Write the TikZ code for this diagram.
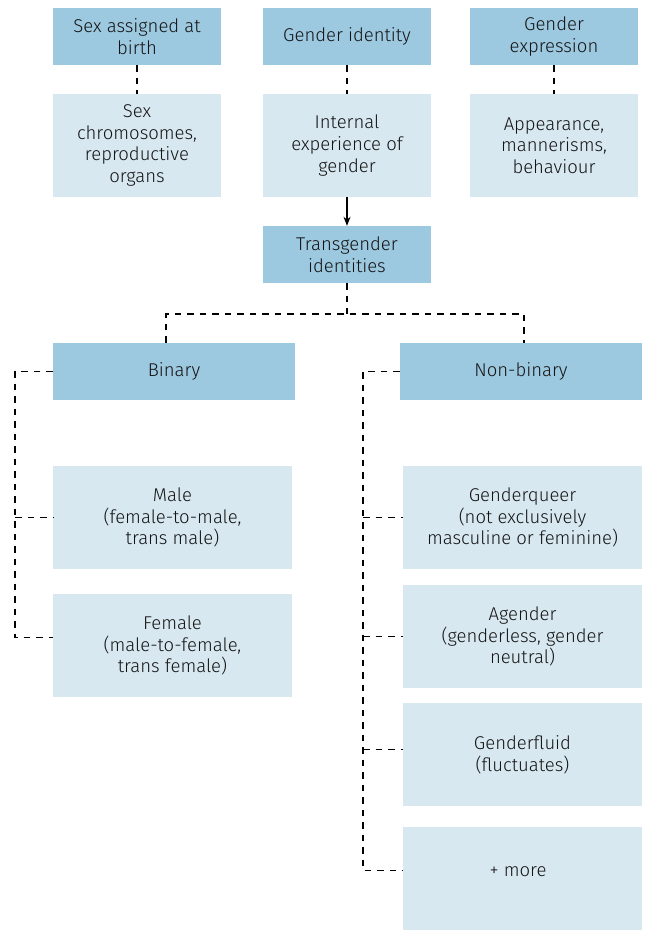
\documentclass[tikz,border=0pt]{standalone}
\usepackage{fontspec}
\setmainfont{Fira Sans}[UprightFont=* Light]
\usetikzlibrary{arrows.meta}
\definecolor{darkbox}{HTML}{9CC8E0}
\definecolor{lightbox}{HTML}{D8E8F1}
\definecolor{txt}{HTML}{141414}
\tikzset{
  box/.style={inner sep=0pt, align=center, text=txt,
    font=\fontsize{18.5}{21.7}\selectfont},
  darkb/.style={box, fill=darkbox},
  lightb/.style={box, fill=lightbox},
  dl/.style={draw=black, line width=1.2pt, dash pattern=on 6.5pt off 6pt},
  arr/.style={draw=black, line width=1.2pt, -{Stealth[length=9pt,width=7pt]}}
}
\begin{document}
\begin{tikzpicture}[x=1pt,y=-1pt]
\useasboundingbox (0,0) rectangle (645,931);
% top row
\node[darkb, minimum width=168pt, minimum height=57pt] (sab) at (137,36.5) {Sex assigned at\\birth};
\node[darkb, minimum width=168pt, minimum height=57pt] (gid) at (347,36.5) {Gender identity};
\node[darkb, minimum width=168pt, minimum height=57pt] (gex) at (554,36.5) {Gender\\expression};
\node[lightb, minimum width=168pt, minimum height=103pt] (sex) at (137,145.5) {Sex\\chromosomes,\\reproductive\\organs};
\node[lightb, minimum width=168pt, minimum height=103pt] (int) at (347,145.5) {Internal\\experience of\\gender};
\node[lightb, minimum width=168pt, minimum height=103pt] (app) at (554,145.5) {Appearance,\\mannerisms,\\behaviour};
\node[darkb, minimum width=168pt, minimum height=57pt] (trans) at (347,254.5) {Transgender\\identities};
% second level
\node[darkb, minimum width=242pt, minimum height=57pt] (bin) at (174,371.5) {Binary};
\node[darkb, minimum width=242pt, minimum height=57pt] (nbin) at (521,371.5) {Non-binary};
% binary children
\node[lightb, minimum width=239pt, minimum height=103pt] (male) at (172.5,517.5) {Male\\(female-to-male,\\trans male)};
\node[lightb, minimum width=239pt, minimum height=103pt] (female) at (172.5,645.5) {Female\\(male-to-female,\\trans female)};
% non-binary children
\node[lightb, minimum width=239pt, minimum height=103pt] (gq) at (522.5,517.5) {Genderqueer\\(not exclusively\\masculine or feminine)};
\node[lightb, minimum width=239pt, minimum height=103pt] (ag) at (522.5,636.5) {Agender\\(genderless, gender\\neutral)};
\node[lightb, minimum width=239pt, minimum height=103pt] (gf) at (522.5,754.5) {Genderfluid\\(fluctuates)};
\node[lightb, minimum width=239pt, minimum height=103pt] (more) at (522.5,878.5) {};
\node[box] (moretxt) at (518,872) {+ more};
% connectors top
\draw[dl] (sab.south) -- (sex.north);
\draw[dl] (gid.south) -- (int.north);
\draw[dl] (gex.south) -- (app.north);
\draw[arr] (int.south) -- (trans.north);
\coordinate (jl) at (166,314);
\coordinate (jr) at (524,314);
\draw[dl] (trans.south) -- (trans.south |- jl);
\draw[dl] (jl |- bin.north) -- (jl) -- (jr) -- (jr |- nbin.north);
% left bracket
\coordinate (lx) at (15,0);
\draw[dl] (bin.west) -- (lx |- bin.west) -- ([yshift=8pt]lx |- female.west) -- ([yshift=8pt]female.west);
\draw[dl] (lx |- male.west) -- (male.west);
% right bracket
\coordinate (rx) at (363,0);
\draw[dl] (nbin.west) -- (rx |- nbin.west) -- ([yshift=8pt]rx |- more.west) -- ([yshift=8pt]more.west);
\draw[dl] (rx |- gq.west) -- (gq.west);
\draw[dl] (rx |- ag.west) -- (ag.west);
\draw[dl] ([yshift=5pt]rx |- gf.west) -- ([yshift=5pt]gf.west);
\end{tikzpicture}
\end{document}
